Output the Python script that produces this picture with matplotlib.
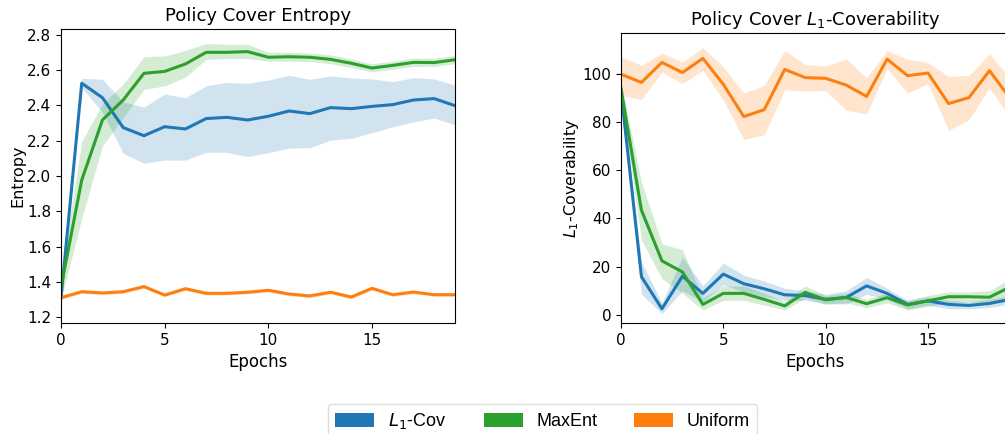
import numpy as np
import matplotlib.pyplot as plt
from matplotlib.patches import Patch

epochs = np.arange(20)

# entropy (left)
ent_l1 = [1.31, 2.525, 2.443, 2.274, 2.228, 2.279, 2.266, 2.325, 2.332, 2.317,
          2.338, 2.368, 2.353, 2.387, 2.381, 2.394, 2.404, 2.430, 2.438, 2.398]
ent_l1_lo = [1.30, 2.50, 2.36, 2.128, 2.072, 2.09, 2.09, 2.134, 2.134, 2.11,
             2.132, 2.158, 2.16, 2.204, 2.213, 2.245, 2.279, 2.306, 2.328, 2.289]
ent_l1_hi = [1.32, 2.553, 2.547, 2.42, 2.39, 2.464, 2.443, 2.51, 2.53, 2.525,
             2.543, 2.57, 2.547, 2.566, 2.555, 2.549, 2.534, 2.557, 2.549, 2.515]

ent_me = [1.37, 1.977, 2.317, 2.43, 2.581, 2.592, 2.634, 2.70, 2.70, 2.704,
          2.672, 2.675, 2.672, 2.66, 2.638, 2.611, 2.626, 2.643, 2.642, 2.658]
ent_me_lo = [1.30, 1.76, 2.17, 2.33, 2.49, 2.51, 2.56, 2.66, 2.665, 2.665,
             2.65, 2.65, 2.648, 2.636, 2.614, 2.59, 2.604, 2.62, 2.62, 2.636]
ent_me_hi = [1.44, 2.195, 2.41, 2.52, 2.675, 2.68, 2.71, 2.75, 2.745, 2.745,
             2.70, 2.70, 2.696, 2.686, 2.662, 2.635, 2.65, 2.668, 2.666, 2.682]

ent_un = [1.311, 1.345, 1.338, 1.345, 1.374, 1.326, 1.362, 1.336, 1.336, 1.342,
          1.353, 1.332, 1.321, 1.342, 1.315, 1.364, 1.328, 1.343, 1.328, 1.328]
ent_un_err = 0.01

# L1-coverability (right)
cov_l1 = [93.0, 15.8, 2.5, 16.0, 8.9, 16.9, 12.9, 10.8, 8.3, 8.0,
          6.4, 7.2, 12.0, 8.9, 4.3, 5.8, 4.3, 3.9, 4.7, 6.4]
cov_l1_lo = [91.0, 8.5, 0.5, 10.0, 5.5, 12.5, 9.5, 7.5, 6.0, 6.0,
             4.5, 4.5, 8.5, 6.5, 2.5, 4.0, 2.5, 2.5, 3.0, 4.5]
cov_l1_hi = [95.0, 22.0, 5.0, 24.0, 12.0, 21.5, 16.5, 14.0, 11.0, 10.0,
             8.5, 10.0, 15.5, 11.0, 6.0, 7.5, 6.0, 5.5, 6.5, 8.0]

cov_me = [93.9, 43.4, 22.4, 17.8, 4.3, 8.9, 8.9, 6.4, 3.7, 9.3,
          6.2, 7.2, 4.6, 7.1, 4.1, 5.8, 7.5, 7.5, 7.3, 11.5]
cov_me_lo = [91.0, 31.0, 15.0, 9.0, 2.0, 6.0, 6.0, 4.0, 2.0, 7.0,
             4.5, 5.0, 3.0, 5.0, 2.0, 3.5, 5.0, 5.5, 5.0, 8.0]
cov_me_hi = [97.0, 55.0, 29.5, 27.0, 7.0, 12.0, 12.0, 9.0, 5.5, 12.0,
             8.0, 9.0, 6.5, 9.0, 6.0, 8.0, 9.5, 9.5, 10.0, 15.0]

cov_un = [99.9, 96.5, 104.8, 100.6, 106.5, 95.7, 82.3, 85.2, 101.9, 98.5,
          98.2, 95.4, 90.7, 106.2, 99.3, 100.4, 87.7, 90.2, 101.4, 90.0]
cov_un_lo = [91.1, 89.4, 100.8, 96.0, 101.5, 89.1, 72.8, 74.8, 93.5, 92.9,
             93.2, 84.9, 83.5, 102.2, 92.1, 96.0, 76.6, 81.0, 94.3, 82.0]
cov_un_hi = [107.3, 103.6, 108.7, 105.0, 110.9, 102.9, 92.1, 95.3, 109.8, 103.9,
             103.3, 106.2, 98.5, 109.8, 106.1, 104.8, 99.0, 99.4, 108.4, 98.0]

labels = ['$L_1$-Cov', 'MaxEnt', 'Uniform']
colors = ['tab:blue', 'tab:green', 'tab:orange']

fig = plt.figure(figsize=(10.05, 4.34), dpi=100)
ax1 = fig.add_axes([0.0607, 0.2558, 0.392, 0.6774])
ax2 = fig.add_axes([0.6179, 0.2558, 0.387, 0.668])

ent_un_lo = np.array(ent_un) - ent_un_err
ent_un_hi = np.array(ent_un) + ent_un_err
left = [(ent_l1, ent_l1_lo, ent_l1_hi), (ent_me, ent_me_lo, ent_me_hi), (ent_un, ent_un_lo, ent_un_hi)]
right = [(cov_l1, cov_l1_lo, cov_l1_hi), (cov_me, cov_me_lo, cov_me_hi), (cov_un, cov_un_lo, cov_un_hi)]

for ax, series in [(ax1, left), (ax2, right)]:
    for (m, lo, hi), c in zip(series, colors):
        ax.fill_between(epochs, lo, hi, color=c, alpha=0.2, linewidth=0)
        ax.plot(epochs, m, color=c, lw=2.2)
    ax.set_xlim(0, 19)
    ax.set_xticks([0, 5, 10, 15])
    ax.tick_params(labelsize=11)
    ax.set_xlabel('Epochs', fontsize=12)

ax1.set_ylim(1.168, 2.832)
ax1.set_yticks(np.arange(1.2, 2.81, 0.2))
ax1.set_title('Policy Cover Entropy', fontsize=13)
ax1.set_ylabel('Entropy', fontsize=11.5, labelpad=1)

ax2.set_ylim(-3.4, 117)
ax2.set_yticks([0, 20, 40, 60, 80, 100])
ax2.set_title('Policy Cover $L_1$-Coverability', fontsize=13)
ax2.set_ylabel('$L_1$-Coverability', fontsize=11.5, labelpad=1)

handles = [Patch(facecolor=c, edgecolor='none') for c in colors]
fig.legend(handles, labels, loc='upper center', bbox_to_anchor=(0.54, 0.069),
           ncol=3, prop={'family': 'Liberation Sans', 'size': 13},
           borderaxespad=0, handlelength=2.17, handleheight=0.75,
           columnspacing=2.05, handletextpad=0.75, fancybox=True,
           edgecolor='#dddddd', framealpha=1)

fig.savefig('out.png', dpi=100)
